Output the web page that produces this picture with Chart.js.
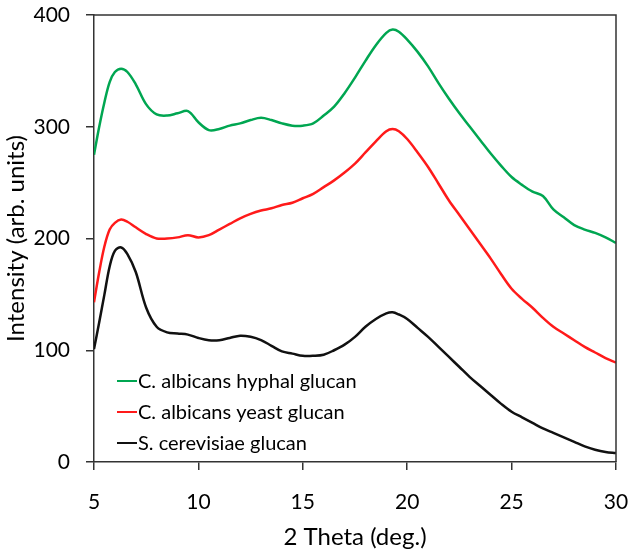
<!DOCTYPE html>
<html>
<head>
<meta charset="utf-8">
<script src="https://cdn.jsdelivr.net/npm/chart.js@4.4.1/dist/chart.umd.min.js"></script>
<style>
  html, body { margin: 0; padding: 0; background: #fff; }
  #chart { display: block; }
</style>
</head>
<body>
<canvas id="chart" width="633" height="552"></canvas>
<script>
// 2 theta positions (deg.) shared by all three scans
const theta = [5, 5.25, 5.5, 5.75, 6, 6.3, 6.6, 7, 7.5, 8, 8.5, 9, 9.5, 10, 10.5, 11, 11.5, 12, 12.5, 13,
    13.5, 14, 14.5, 15, 15.5, 16, 16.5, 17, 17.5, 18, 18.5, 19, 19.3, 19.6, 20, 20.5, 21, 21.5, 22, 22.5,
    23, 23.5, 24, 24.5, 25, 25.5, 26, 26.5, 27, 27.5, 28, 28.5, 29, 29.5, 30];

const hyphal = [275, 300, 322, 340, 349, 352, 349, 338, 320, 311, 310, 312, 314, 304, 297, 298, 301, 303, 306, 308,
    306, 303, 301, 301, 303, 310, 318, 330, 344, 359, 373, 384, 387, 385, 378, 367, 354, 339, 325, 312,
    300, 288, 276, 265, 255, 248, 242, 238, 226, 219, 212, 208, 205, 201, 196];

const yeast = [143, 170, 193, 208, 214, 217, 215, 210, 204, 200, 200, 201, 203, 201, 203, 208, 213, 218, 222, 225,
    227, 230, 232, 236, 240, 246, 252, 259, 267, 277, 287, 296, 298, 296, 289, 277, 264, 249, 234, 221,
    208, 195, 182, 168, 155, 146, 138, 129, 121, 115, 109, 103, 98, 93, 89];

const cerevisiae = [101, 125, 150, 175, 189, 192, 186, 170, 138, 121, 116, 115, 114, 111, 109, 109, 111, 113, 112, 109,
    104, 99, 97, 95, 95, 96, 100, 105, 112, 121, 128, 133, 134, 132, 128, 120, 112, 103, 94, 85,
    76, 68, 60, 52, 45, 40, 35, 30, 26, 22, 18, 14, 11, 9, 8];

const seriesLabels = ['C. albicans hyphal glucan', 'C. albicans yeast glucan', 'S. cerevisiae glucan'];
const seriesColors = ['#00a651', '#ff1a1a', '#111111'];

const xTicks = [5, 10, 15, 20, 25, 30];
const yTicks = [0, 100, 200, 300, 400];

const fontFamily = 'Lato, "Open Sans", sans-serif';
const axisColor = '#333';
const textColor = '#000';

function toPoints(values) {
    return values.map((v, i) => ({ x: theta[i], y: v }));
}

// Frame on top/right and the legend inside the plot, bottom left
const framePlugin = {
    id: 'frame',
    afterDraw(chart) {
        const { ctx, chartArea } = chart;
        ctx.save();
        ctx.strokeStyle = axisColor;
        ctx.lineWidth = 1.5;
        ctx.beginPath();
        ctx.moveTo(chartArea.left, chartArea.top);
        ctx.lineTo(chartArea.right, chartArea.top);
        ctx.lineTo(chartArea.right, chartArea.bottom);
        ctx.stroke();

        // legend
        ctx.font = '20px ' + fontFamily;
        ctx.textBaseline = 'middle';
        const rows = [381, 412, 443];
        chart.data.datasets.forEach((ds, i) => {
            const y = rows[i];
            ctx.strokeStyle = ds.borderColor;
            ctx.lineWidth = 2;
            ctx.beginPath();
            ctx.moveTo(117, y);
            ctx.lineTo(137, y);
            ctx.stroke();
            ctx.fillStyle = textColor;
            ctx.fillText(ds.label, 138, y + 1);
        });
        ctx.restore();
    }
};

const ctx = document.getElementById('chart').getContext('2d');
new Chart(ctx, {
    type: 'line',
    data: {
        datasets: seriesLabels.map((label, i) => ({
            label: label,
            data: toPoints([hyphal, yeast, cerevisiae][i]),
            borderColor: seriesColors[i],
            borderWidth: 2.5,
            pointRadius: 0,
            tension: 0.35,
            fill: false
        }))
    },
    options: {
        responsive: false,
        animation: false,
        layout: { padding: { top: 15, right: 17, left: 0, bottom: 0 } },
        plugins: {
            legend: { display: false },
            tooltip: { enabled: false }
        },
        scales: {
            x: {
                type: 'linear',
                min: 5,
                max: 30,
                afterBuildTicks: s => { s.ticks = xTicks.map(v => ({ value: v })); },
                afterFit: s => { s.height = 90; s.paddingLeft = 0; s.paddingRight = 0; },
                grid: { drawOnChartArea: false, drawTicks: true, tickLength: 8, color: axisColor, lineWidth: 1.5 },
                border: { display: true, color: axisColor, width: 1.5 },
                ticks: { color: textColor, font: { family: fontFamily, size: 21 }, padding: 20, maxRotation: 0 },
                title: { display: true, text: '2 Theta (deg.)', color: textColor, font: { family: fontFamily, size: 24 }, padding: { top: 2, bottom: 0 } }
            },
            y: {
                min: 0,
                max: 400,
                afterBuildTicks: s => { s.ticks = yTicks.map(v => ({ value: v })); },
                afterFit: s => { s.width = 94; s.paddingTop = 0; s.paddingBottom = 0; },
                grid: { drawOnChartArea: false, drawTicks: true, tickLength: 8, color: axisColor, lineWidth: 1.5 },
                border: { display: true, color: axisColor, width: 1.5 },
                ticks: { color: textColor, font: { family: fontFamily, size: 21 }, padding: 16 },
                title: { display: true, text: 'Intensity (arb. units)', color: textColor, font: { family: fontFamily, size: 24 }, padding: { top: 2, bottom: 4 } }
            }
        }
    },
    plugins: [framePlugin]
});
</script>
</body>
</html>
